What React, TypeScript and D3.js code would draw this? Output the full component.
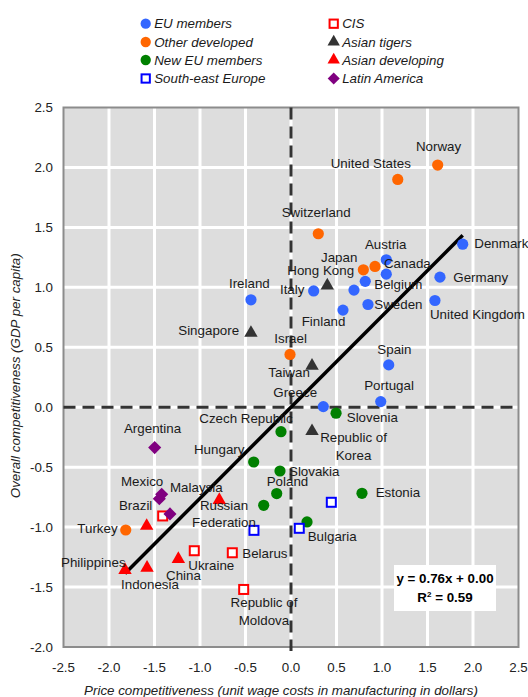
import React from "react";
import * as d3 from "d3";

// Country groups: [name, price competitiveness, overall competitiveness]
type Row = [string, number, number];

const euMembers: Row[] = [
  ["Denmark", 1.887, 1.36],
  ["Germany", 1.637, 1.085],
  ["United Kingdom", 1.582, 0.89],
  ["Austria", 1.047, 1.23],
  ["Netherlands", 1.047, 1.11],
  ["Belgium", 0.816, 1.05],
  ["France", 0.692, 0.977],
  ["Sweden", 0.846, 0.857],
  ["Finland", 0.571, 0.81],
  ["Italy", 0.249, 0.97],
  ["Ireland", -0.44, 0.896],
  ["Spain", 1.074, 0.353],
  ["Portugal", 0.986, 0.047],
  ["Greece", 0.355, 0.005],
];
const otherDeveloped: Row[] = [
  ["Norway", 1.612, 2.02],
  ["United States", 1.173, 1.9],
  ["Switzerland", 0.3, 1.447],
  ["Japan", 0.795, 1.146],
  ["Canada", 0.923, 1.174],
  ["Israel", -0.011, 0.44],
  ["Turkey", -1.816, -1.024],
];
const newEuMembers: Row[] = [
  ["Slovenia", 0.495, -0.05],
  ["Czech Republic", -0.11, -0.204],
  ["Hungary", -0.41, -0.457],
  ["Slovakia", -0.121, -0.532],
  ["Poland", -0.157, -0.72],
  ["Lithuania", -0.3, -0.818],
  ["Estonia", 0.78, -0.718],
  ["Bulgaria", 0.176, -0.957],
];
const southEastEurope: Row[] = [
  ["Croatia", 0.443, -0.793],
  ["Serbia", -0.407, -1.027],
  ["Romania", 0.091, -1.01],
];
const cis: Row[] = [
  ["Russian Federation", -1.41, -0.907],
  ["Ukraine", -1.063, -1.197],
  ["Belarus", -0.645, -1.214],
  ["Republic of Moldova", -0.52, -1.52],
];
const asianTigers: Row[] = [
  ["Hong Kong", 0.399, 1.015],
  ["Singapore", -0.44, 0.62],
  ["Taiwan", 0.231, 0.345],
  ["Republic of Korea", 0.231, -0.2],
];
const asianDeveloping: Row[] = [
  ["Malaysia", -0.788, -0.774],
  ["Thailand", -1.586, -0.99],
  ["Philippines", -1.824, -1.358],
  ["Indonesia", -1.582, -1.339],
  ["China", -1.238, -1.266],
];
const latinAmerica: Row[] = [
  ["Argentina", -1.498, -0.337],
  ["Mexico", -1.421, -0.726],
  ["Chile", -1.447, -0.763],
  ["Brazil", -1.33, -0.89],
];

const xTicks = [-2.5, -2.0, -1.5, -1.0, -0.5, 0.0, 0.5, 1.0, 1.5, 2.0, 2.5];
const yTicks = [-2.0, -1.5, -1.0, -0.5, 0.0, 0.5, 1.0, 1.5, 2.0, 2.5];

const slope = 0.76;
const intercept = 0.0;
const rSquared = 0.59;

type Shape = "circle" | "openSquare" | "triangle" | "diamond";
interface Group {
  name: string;
  rows: Row[];
  shape: Shape;
  color: string;
}

const groups: Group[] = [
  { name: "EU members", rows: euMembers, shape: "circle", color: "#3366ff" },
  { name: "Other developed", rows: otherDeveloped, shape: "circle", color: "#ff6600" },
  { name: "New EU members", rows: newEuMembers, shape: "circle", color: "#008000" },
  { name: "South-east Europe", rows: southEastEurope, shape: "openSquare", color: "#0000ff" },
  { name: "CIS", rows: cis, shape: "openSquare", color: "#ff0000" },
  { name: "Asian tigers", rows: asianTigers, shape: "triangle", color: "#333333" },
  { name: "Asian developing", rows: asianDeveloping, shape: "triangle", color: "#ff0000" },
  { name: "Latin America", rows: latinAmerica, shape: "diamond", color: "#800080" },
];

// Label placement relative to each point: text offset, baseline offsets per line, anchor
type LabelSpec = { dx: number; dy: number[]; anchor?: "start" | "middle"; lines?: string[] };
const labelLayout: Record<string, LabelSpec> = {
  Denmark: { dx: 11.6, dy: [4.3] },
  Germany: { dx: 13.3, dy: [4.4] },
  "United Kingdom": { dx: -5, dy: [18.3] },
  Austria: { dx: -21.3, dy: [-11] },
  Belgium: { dx: 9, dy: [7.6] },
  Sweden: { dx: 6.3, dy: [4.6] },
  Finland: { dx: -41.3, dy: [16] },
  Italy: { dx: -33.7, dy: [3.3] },
  Ireland: { dx: -22, dy: [-12.3] },
  Spain: { dx: -11.4, dy: [-10.7] },
  Portugal: { dx: -16.5, dy: [-11.5] },
  Greece: { dx: -50, dy: [-9.4] },
  Norway: { dx: -21.7, dy: [-14.3] },
  "United States": { dx: -67, dy: [-11.7] },
  Switzerland: { dx: -36.6, dy: [-16.7] },
  Japan: { dx: -42.3, dy: [-8.3] },
  Canada: { dx: 9, dy: [1.6] },
  Israel: { dx: -15.7, dy: [-11] },
  Turkey: { dx: -48.4, dy: [2.7] },
  "Hong Kong": { dx: -40, dy: [-10.7] },
  Singapore: { dx: -72.7, dy: [2.3] },
  Taiwan: { dx: -43.7, dy: [11.5] },
  "Republic of Korea": { dx: 41.5, dy: [10.6, 28.3], anchor: "middle", lines: ["Republic of", "Korea"] },
  Slovenia: { dx: 10.7, dy: [9] },
  "Czech Republic": { dx: -81.7, dy: [-9] },
  Hungary: { dx: -59.7, dy: [-7.7] },
  Slovakia: { dx: 9, dy: [5] },
  Poland: { dx: -10, dy: [-7.7] },
  Estonia: { dx: 13.7, dy: [4] },
  Bulgaria: { dx: 0.7, dy: [18.7] },
  "Russian Federation": { dx: 61.3, dy: [-6, 11.3], anchor: "middle", lines: ["Russian", "Federation"] },
  Ukraine: { dx: -6, dy: [19.3] },
  Belarus: { dx: 10, dy: [5.6] },
  "Republic of Moldova": { dx: 20.3, dy: [17.4, 35.7], anchor: "middle", lines: ["Republic of", "Moldova"] },
  Malaysia: { dx: -49.3, dy: [-8.3] },
  Philippines: { dx: -64, dy: [-3.3] },
  Indonesia: { dx: -26, dy: [21.6] },
  China: { dx: -12.3, dy: [21] },
  Argentina: { dx: -30.7, dy: [-15] },
  Mexico: { dx: -40.7, dy: [-8.3] },
  Brazil: { dx: -51, dy: [-4] },
};

const W = 528;
const H = 697;
const FONT = "'Liberation Sans', Arial, sans-serif";
const FS = 13.35;

const x = d3.scaleLinear().domain([-2.5, 2.5]).range([63.5, 518.5]);
const y = d3.scaleLinear().domain([-2, 2.5]).range([647, 107.5]);

const trianglePath = d3.symbol().type(d3.symbolTriangle).size(78)()!;
const diamondPath = d3.symbol().type(d3.symbolSquare).size(86)()!;

function Marker({ shape, color, cx, cy, scale = 1 }: { shape: Shape; color: string; cx: number; cy: number; scale?: number }) {
  if (shape === "circle") return <circle cx={cx} cy={cy} r={5.6 * scale} fill={color} />;
  if (shape === "openSquare") {
    const s = 9 * scale;
    return <rect x={cx - s / 2} y={cy - s / 2} width={s} height={s} fill="#ffffff" stroke={color} strokeWidth={2} />;
  }
  if (shape === "triangle")
    return <path d={trianglePath} transform={`translate(${cx},${cy}) scale(${scale})`} fill={color} />;
  return <path d={diamondPath} transform={`translate(${cx},${cy}) rotate(45) scale(${scale})`} fill={color} />;
}

export default function App() {
  const [x0, x1] = x.range();
  const [yBottom, yTop] = y.range();
  const allRows = groups.flatMap((g) => g.rows);
  const [xMin, xMax] = d3.extent(allRows, (r) => r[1]) as [number, number];
  const fit = d3.line<number>()
    .x((v) => x(v))
    .y((v) => y(slope * v + intercept));

  const legendCols = [145.7, 333.7];
  const legendRows = [23.7, 42, 60, 78.5];

  return (
    <svg width={W} height={H} style={{ position: "absolute", left: 0, top: 0, fontFamily: FONT }}>
      <rect x={0} y={0} width={W} height={H} fill="#ffffff" />

      {/* plot area */}
      <rect x={x0} y={yTop} width={x1 - x0} height={yBottom - yTop} fill="#dddddd" />
      {xTicks.slice(1, -1).map((t) => (
        <line key={`gx${t}`} x1={x(t)} x2={x(t)} y1={yTop} y2={yBottom} stroke="#ffffff" strokeWidth={3} />
      ))}
      {yTicks.slice(1, -1).map((t) => (
        <line key={`gy${t}`} x1={x0} x2={x1} y1={y(t)} y2={y(t)} stroke="#ffffff" strokeWidth={3} />
      ))}
      <rect x={x0} y={yTop} width={x1 - x0} height={yBottom - yTop} fill="none" stroke="#8c8c8c" strokeWidth={2} />

      {/* zero reference lines */}
      <line x1={x(0)} x2={x(0)} y1={yTop} y2={yBottom + 4} stroke="#333333" strokeWidth={3} strokeDasharray="12 7" />
      <line x1={x0} x2={x1} y1={y(0)} y2={y(0)} stroke="#333333" strokeWidth={3} strokeDasharray="12 7" />

      {/* axis tick labels */}
      {xTicks.map((t) => (
        <text key={`xt${t}`} x={x(t)} y={672.3} textAnchor="middle" fontSize={FS} fill="#222">
          {t.toFixed(1)}
        </text>
      ))}
      {yTicks.map((t) => (
        <text key={`yt${t}`} x={53} y={y(t) + 4.6} textAnchor="end" fontSize={FS} fill="#222">
          {t.toFixed(1)}
        </text>
      ))}

      {/* axis titles */}
      <text x={281} y={694.5} textAnchor="middle" fontSize={FS} fontStyle="italic" fill="#222">
        Price competitiveness (unit wage costs in manufacturing in dollars)
      </text>
      <text
        transform={`translate(20,${(yTop + yBottom) / 2 - 1.5}) rotate(-90)`}
        textAnchor="middle"
        fontSize={FS}
        fontStyle="italic"
        fill="#222"
      >
        Overall competitiveness (GDP per capita)
      </text>

      {/* regression line */}
      <path d={fit([xMin, xMax]) ?? ""} stroke="#000000" strokeWidth={3.5} fill="none" />

      {/* points */}
      {groups.map((g) =>
        g.rows.map((r) => (
          <Marker key={`${g.name}-${r[0]}`} shape={g.shape} color={g.color} cx={x(r[1])} cy={y(r[2])} />
        ))
      )}

      {/* point labels */}
      {allRows.map((r) => {
        const spec = labelLayout[r[0]];
        if (!spec) return null;
        const lines = spec.lines ?? [r[0]];
        return lines.map((ln, i) => (
          <text
            key={`lbl-${r[0]}-${i}`}
            x={x(r[1]) + spec.dx}
            y={y(r[2]) + spec.dy[i]}
            textAnchor={spec.anchor ?? "start"}
            fontSize={FS}
            fill="#1a1a1a"
          >
            {ln}
          </text>
        ));
      })}

      {/* equation box */}
      <rect x={394} y={565} width={102} height={46} fill="#ffffff" />
      <text x={445} y={583} textAnchor="middle" fontSize={FS} fontWeight="bold" fill="#000">
        {`y = ${slope.toFixed(2)}x + ${intercept.toFixed(2)}`}
      </text>
      <text x={445} y={602} textAnchor="middle" fontSize={FS} fontWeight="bold" fill="#000">
        R<tspan fontSize={8} dy={-5}>2</tspan>
        <tspan dy={5}>{` = ${rSquared.toFixed(2)}`}</tspan>
      </text>

      {/* legend */}
      {groups.map((g, i) => {
        const col = i < 4 ? 0 : 1;
        const row = i % 4;
        const cx = legendCols[col];
        const cy = legendRows[row];
        return (
          <g key={`lg-${g.name}`}>
            <Marker shape={g.shape} color={g.color} cx={cx} cy={cy} scale={0.92} />
            <text x={cx + 8.5} y={cy + 4.6} fontSize={FS} fontStyle="italic" fill="#1a1a1a">
              {g.name}
            </text>
          </g>
        );
      })}
    </svg>
  );
}
